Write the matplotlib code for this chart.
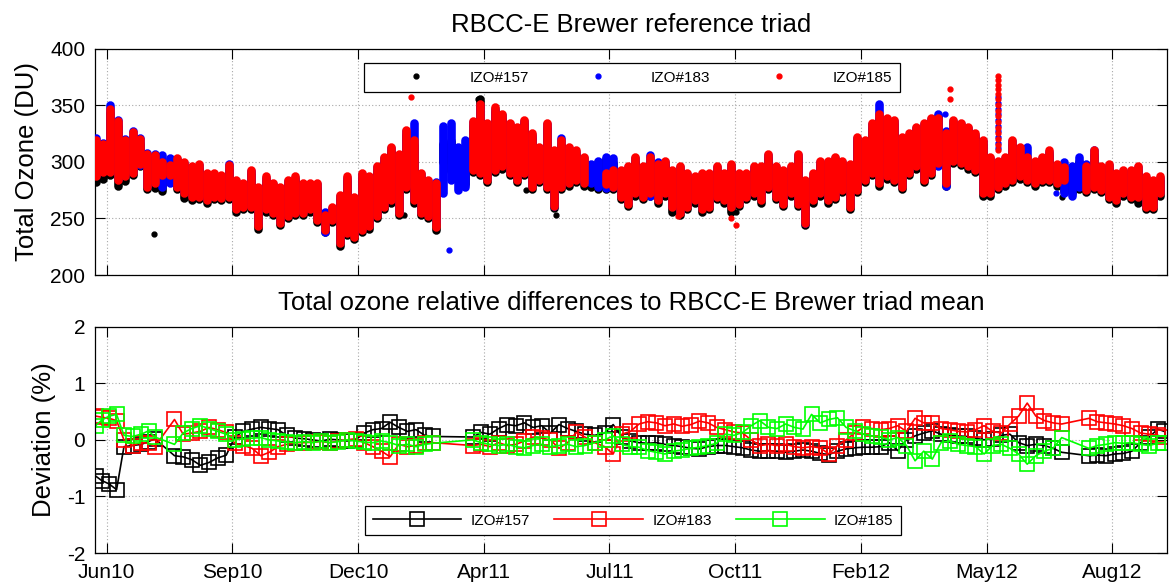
import numpy as np
import matplotlib
matplotlib.use("Agg")
import matplotlib.pyplot as plt

plt.rcParams['font.family'] = ['Liberation Sans', 'DejaVu Sans']
plt.rcParams['axes.unicode_minus'] = False

# ---------------- data ----------------
# x axis: days since 1 Jun 2010; tick labels placed every 102 days
tick_days = [0, 102, 204, 306, 408, 510, 612, 714, 816]
tick_labels = ['Jun10', 'Sep10', 'Dec10', 'Apr11', 'Jul11', 'Oct11', 'Feb12', 'May12', 'Aug12']

series_top = ['IZO#157', 'IZO#183', 'IZO#185']

# sampling days of the total ozone bands (every 6 days)
ozone_day = list(range(-9, 856, 6))
nan = float('nan')

# IZO#185 (red) daily range of total ozone (DU)
red_hi = [319,316,347,336,319,326,320,307,306,300,
          297,303,300,296,298,290,290,288,297,284,
          281,293,278,287,281,278,284,287,281,281,
          281,253,260,271,287,269,290,287,296,304,
          313,307,328,319,290,284,281,nan,nan,nan,
          nan,336,351,334,348,342,334,331,337,325,
          313,334,310,319,313,310,304,nan,nan,290,
          293,293,296,304,296,304,298,301,293,296,
          290,287,290,290,296,290,298,290,290,296,
          296,307,296,293,296,307,284,290,301,301,
          304,301,298,322,319,334,342,339,337,322,
          325,331,334,339,339,325,337,334,331,325,
          319,304,301,304,319,313,304,301,304,310,
          298,295,nan,nan,296,310,296,298,290,293,
          293,296,287,284,287]
red_lo = [287,291,291,284,287,290,298,278,281,288,
          288,278,272,269,269,266,269,268,269,258,
          260,260,243,258,255,246,252,255,255,258,
          249,240,249,228,237,234,240,243,252,260,
          266,255,278,266,255,252,242,nan,nan,nan,
          nan,293,290,284,293,296,290,284,290,278,
          284,278,261,278,281,284,281,nan,nan,280,
          278,269,263,272,269,272,266,272,260,255,
          260,266,258,260,269,266,260,263,269,272,
          266,278,269,263,272,263,246,266,272,266,
          269,275,260,275,284,290,281,287,284,278,
          290,296,284,290,299,281,301,299,296,293,
          272,272,278,281,284,287,284,281,284,284,
          281,284,nan,nan,275,278,275,269,266,272,
          269,269,260,260,272]

# IZO#183 (blue)
blue_hi = [321,317,350,337,320,327,321,308,307,306,
           303,302,299,295,297,289,289,287,298,283,
           280,292,277,286,280,277,283,286,280,280,
           280,256,259,270,286,268,289,286,295,303,
           312,306,327,334,289,283,282,332,334,313,
           319,335,350,333,347,341,333,330,336,324,
           312,333,309,321,312,309,303,298,301,304,
           303,292,295,303,295,306,300,300,292,295,
           289,286,289,289,295,289,297,289,289,295,
           295,306,295,292,295,306,283,289,300,300,
           303,300,297,321,318,333,351,338,336,321,
           324,330,333,338,342,327,336,333,330,324,
           318,303,300,303,318,312,313,300,303,309,
           297,300,296,304,298,310,295,297,289,292,
           292,295,286,283,286]
blue_lo = [288,292,292,285,288,291,297,279,282,278,
           281,279,273,270,270,267,270,269,270,259,
           261,261,246,259,256,247,253,256,256,259,
           250,238,250,229,238,235,241,244,253,261,
           267,256,279,267,256,253,247,272,284,275,
           278,294,291,285,294,297,291,285,291,279,
           285,279,261,279,282,285,282,281,278,277,
           278,270,264,273,270,270,267,273,261,256,
           261,267,259,261,270,267,261,264,270,273,
           267,279,270,264,273,264,246,267,273,267,
           270,276,261,276,285,291,282,288,285,279,
           291,297,285,291,296,279,302,300,297,294,
           273,273,279,282,285,288,290,282,285,285,
           282,272,270,278,276,279,276,270,267,273,
           270,270,261,261,273]

# IZO#157 (black)
black_hi = [315,312,343,332,315,322,316,303,302,296,
            293,299,296,292,294,286,286,284,293,280,
            277,289,274,283,277,274,280,283,277,277,
            277,249,256,267,283,265,286,283,292,300,
            309,303,324,315,286,280,277,316,318,305,
            312,332,355,330,344,338,330,327,333,321,
            309,330,306,315,309,306,300,296,300,302,
            299,289,292,300,292,300,294,297,289,292,
            286,283,286,286,292,286,294,286,286,292,
            292,303,292,289,292,303,280,286,297,297,
            300,297,294,318,315,330,338,335,333,318,
            321,327,330,335,340,321,333,330,327,321,
            315,300,297,300,315,309,300,297,300,306,
            294,291,293,300,292,306,292,294,286,289,
            289,292,283,280,283]
black_lo = [282,285,288,279,283,288,296,276,277,274,
            286,276,268,266,267,264,267,266,267,256,
            258,258,241,256,253,244,250,253,253,256,
            247,238,247,226,235,232,238,241,250,258,
            264,253,276,264,253,250,240,300,292,285,
            280,291,288,282,291,294,288,282,288,276,
            282,276,259,276,279,282,279,278,276,276,
            276,267,261,270,267,270,264,270,256,253,
            258,264,256,258,267,264,256,261,267,270,
            264,276,267,261,270,261,244,264,270,264,
            267,273,258,273,282,288,279,285,282,276,
            288,294,282,288,297,279,299,297,294,291,
            270,270,276,279,282,285,282,279,282,282,
            279,274,272,276,273,276,273,267,264,270,
            267,264,258,258,270]

# isolated readings (day, DU)
black_pt_day = [38, 241, 285, 301, 340, 365, 511, 775, 813, 847]
black_pt_val = [236, 253, 300, 355, 275, 253, 256, 269, 272, 261]
blue_pt_day = [278, 627, 680, 770, 723, 723, 723, 723, 723, 723, 723, 723, 723, 723]
blue_pt_val = [222, 351, 342, 272, 357, 352, 347, 342, 337, 332, 327, 322, 317, 312]
red_pt_day = [247, 464, 507, 511, 684, 684, 723, 723, 723, 723, 723, 723, 723, 723,
              723, 723, 723, 723, 723, 723, 723]
red_pt_val = [357, 252, 250, 244, 364, 355, 376, 372, 368, 364, 360, 355, 350, 345,
              340, 335, 330, 325, 320, 315, 310]

# deviations to the triad mean (%)
dev_day = [-9, -4, 2, 8, 14, 21, 28, 34, 39,
           55, 62, 69, 76, 83, 90, 97, 104, 111, 118, 125, 132, 139, 146, 153, 160,
           167, 174, 181, 188, 195, 202, 209, 216, 223, 230, 237, 244, 251, 258, 265,
           297, 304, 311, 318, 325, 332, 339, 346, 353, 360, 367, 374, 381, 388, 396,
           404, 411,
           418, 425, 432, 439, 446, 453, 460, 467, 474, 481, 488, 495, 502, 509, 516,
           523, 530, 537, 544, 551, 558, 565, 572, 579, 586, 593, 600, 607, 614, 621,
           628, 635, 642, 649, 656, 663, 670, 677, 684, 691, 698, 705, 712, 719, 726,
           733, 740, 747, 754, 761, 768, 775,
           797, 804, 811, 818, 825, 832, 839, 846, 853, 858]
dev_157 = [-0.64, -0.72, -0.78, -0.88, -0.12, -0.10, -0.08, -0.03, 0.02,
           -0.28, -0.30, -0.35, -0.45, -0.40, -0.32, -0.27, 0.05, 0.15, 0.19, 0.22, 0.20,
           0.18, 0.08, 0.03, 0.02, 0.00, -0.02, 0.01, 0.00, -0.02, 0.00, 0.12, 0.18, 0.20,
           0.31, 0.22, 0.15, 0.18, 0.08, 0.06,
           0.05, 0.13, 0.10, 0.20, 0.27, 0.25, 0.30, 0.22, 0.25, 0.12, 0.27, 0.20, 0.15,
           0.10, 0.08, 0.12, 0.27,
           0.05, -0.02, -0.05, -0.06, -0.05, -0.08, -0.10, -0.12, -0.15, -0.16, -0.12,
           -0.10, -0.10, -0.12, -0.14, -0.18, -0.20, -0.19, -0.20, -0.22, -0.20, -0.18,
           -0.20, -0.24, -0.26, -0.20, -0.16, -0.14, -0.13, -0.13, -0.12, -0.05, -0.19,
           0.00, 0.07, 0.12, 0.16, 0.10, 0.08, 0.07, 0.06, 0.03, 0.00, 0.02, 0.08, 0.10,
           -0.05, -0.10, -0.08, -0.10, -0.15, -0.22,
           -0.28, -0.27, -0.28, -0.25, -0.24, -0.20, -0.05, 0.05, 0.19, 0.15]
dev_183 = [0.42, 0.40, 0.38, 0.34, 0.00, -0.10, -0.05, -0.06, -0.12,
           0.36, 0.10, 0.12, 0.15, 0.22, 0.18, 0.13, -0.06, -0.10, -0.15, -0.28, -0.22,
           -0.12, -0.08, -0.05, -0.05, -0.04, -0.03, -0.05, -0.02, 0.00, 0.02, -0.05,
           -0.12, -0.20, -0.30, -0.08, -0.12, -0.10, -0.06, -0.05,
           -0.10, -0.08, -0.12, -0.05, -0.10, -0.08, -0.02, 0.05, 0.03, 0.00, -0.15,
           -0.05, 0.13, 0.05, -0.05, -0.12, -0.25,
           0.10, 0.15, 0.28, 0.32, 0.30, 0.25, 0.28, 0.24, 0.27, 0.33, 0.30, 0.22, 0.18,
           0.14, 0.12, 0.00, -0.10, -0.08, -0.10, -0.08, -0.12, -0.14, -0.12, -0.14,
           -0.25, -0.10, 0.00, 0.12, 0.22, 0.20, 0.18, 0.20, 0.25, 0.15, 0.38, 0.30, 0.30,
           0.20, 0.18, 0.15, 0.14, 0.18, 0.25, 0.15, 0.12, 0.28, 0.42, 0.65, 0.42, 0.34,
           0.30, 0.28,
           0.38, 0.32, 0.30, 0.28, 0.25, 0.20, 0.12, 0.10, 0.08, 0.05]
dev_185 = [0.25, 0.35, 0.42, 0.45, 0.08, 0.06, 0.10, 0.16, 0.05,
           -0.08, 0.12, 0.20, 0.25, 0.20, 0.15, 0.10, 0.00, 0.02, 0.03, 0.04, 0.00,
           -0.02, -0.04, -0.05, -0.03, -0.05, -0.02, -0.05, -0.03, 0.00, -0.02, -0.04,
           -0.05, -0.02, -0.05, -0.10, -0.08, -0.12, -0.08, -0.06,
           0.00, -0.05, -0.08, -0.10, -0.08, -0.12, -0.14, -0.10, -0.08, -0.12, -0.10,
           -0.08, -0.12, -0.10, -0.05, 0.00, 0.07,
           -0.08, -0.12, -0.13, -0.19, -0.22, -0.25, -0.20, -0.18, -0.15, -0.13, -0.10,
           -0.06, 0.10, 0.08, 0.13, 0.25, 0.34, 0.22, 0.20, 0.28, 0.22, 0.19, 0.45, 0.30,
           0.36, 0.39, 0.22, 0.16, 0.10, 0.07, 0.05, 0.00, 0.04, -0.10, -0.37, -0.20,
           -0.34, -0.05, -0.02, -0.08, -0.10, -0.12, -0.25, -0.10, -0.08, -0.15, -0.25,
           -0.43, -0.28, -0.20, -0.15, 0.04,
           -0.15, -0.10, -0.08, -0.05, -0.06, -0.05, -0.08, -0.10, -0.06, -0.05]

# ---------------- figure ----------------
fig = plt.figure(figsize=(11.7, 5.88), dpi=100)
ax1 = fig.add_axes([0.0812, 0.5323, 0.9162, 0.3852])
ax2 = fig.add_axes([0.0812, 0.0595, 0.9162, 0.3849])

XMIN, XMAX = -9.5, 860.4

def band(ax, day, lo, hi, color):
    d = np.asarray(day, float)
    l = np.asarray(lo, float)
    h = np.asarray(hi, float)
    m = ~(np.isnan(l) | np.isnan(h))
    lc = ax.vlines(d[m], l[m], h[m], colors=color, linewidth=6.2, zorder=3)
    lc.set_capstyle('round')

band(ax1, ozone_day, black_lo, black_hi, 'black')
h1, = ax1.plot(black_pt_day, black_pt_val, '.', color='black', ms=7, zorder=3,
               label=series_top[0])
band(ax1, ozone_day, blue_lo, blue_hi, 'blue')
h2, = ax1.plot(blue_pt_day, blue_pt_val, '.', color='blue', ms=7, zorder=3,
               label=series_top[1])
band(ax1, ozone_day, red_lo, red_hi, 'red')
h3, = ax1.plot(red_pt_day, red_pt_val, '.', color='red', ms=7, zorder=3,
               label=series_top[2])

sq = dict(marker='s', ms=9.5, mfc='none', mew=1.2, lw=1.2)
g1, = ax2.plot(dev_day, dev_157, color='black', mec='black', label='IZO#157', **sq)
g2, = ax2.plot(dev_day, dev_183, color='red', mec='red', label='IZO#183', **sq)
g3, = ax2.plot(dev_day, dev_185, color=(0, 1, 0), mec=(0, 1, 0), label='IZO#185', **sq)

for ax in (ax1, ax2):
    ax.set_xlim(XMIN, XMAX)
    ax.set_xticks(tick_days)
    ax.set_axisbelow(True)
    ax.grid(True, linestyle=(0, (1, 2)), color='#a8a8a8', linewidth=0.8)
    ax.tick_params(direction='in', top=True, right=True, length=7, width=0.8,
                   labelsize=15, pad=7)
    for s in ax.spines.values():
        s.set_linewidth(0.9)

ax1.set_ylim(200, 400)
ax1.set_yticks([200, 250, 300, 350, 400])
ax1.set_xticklabels([])
ax1.set_ylabel('Total Ozone (DU)', fontsize=18.5, labelpad=8)
ax1.set_title('RBCC-E Brewer reference triad', fontsize=18.5, pad=12)

ax2.set_ylim(-2, 2)
ax2.set_yticks([-2, -1, 0, 1, 2])
ax2.set_xticklabels(tick_labels)
ax2.set_ylabel('Deviation (%)', fontsize=18.5, labelpad=8)
ax2.set_title('Total ozone relative differences to RBCC-E Brewer triad mean',
              fontsize=18.5, pad=12)

leg_kw = dict(ncol=3, fontsize=11, handlelength=5.8, handletextpad=0.6,
              columnspacing=1.6, borderpad=0.5, fancybox=False, framealpha=1,
              edgecolor='black', borderaxespad=0, numpoints=1, loc='upper left')
l1 = ax1.legend(handles=[h1, h2, h3], bbox_to_anchor=(0.251, 0.936), **leg_kw)
l1.get_frame().set_linewidth(0.9)
l2 = ax2.legend(handles=[g1, g2, g3], bbox_to_anchor=(0.252, 0.208), **leg_kw)
l2.get_frame().set_linewidth(0.9)

fig.savefig('out.png', dpi=100)
